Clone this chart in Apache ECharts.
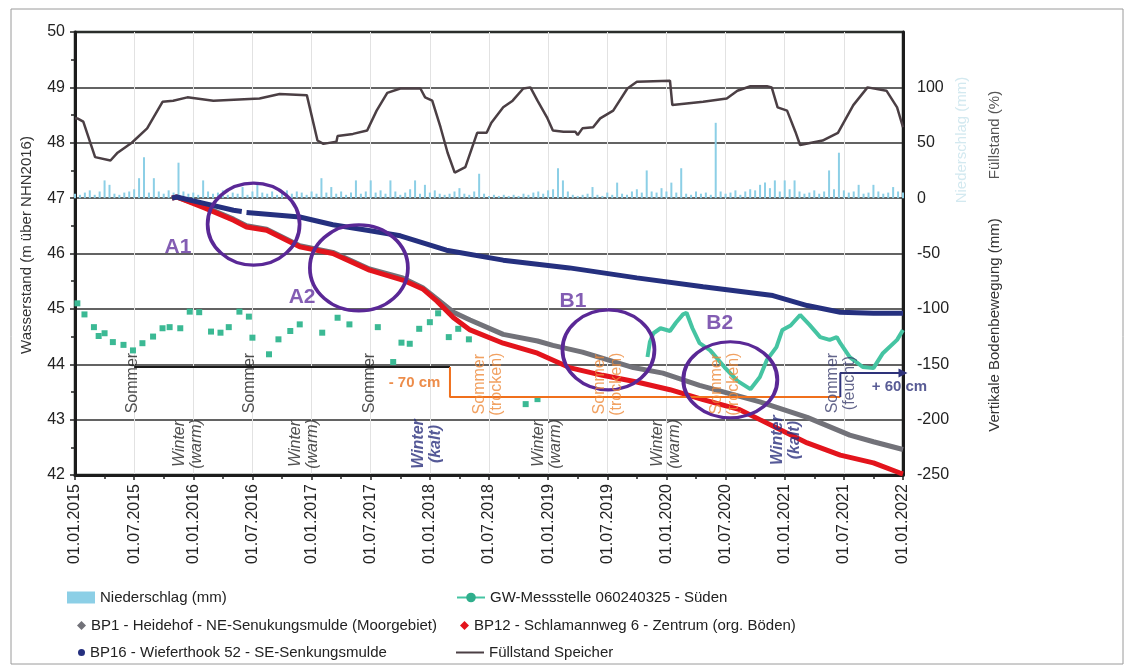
<!DOCTYPE html>
<html>
<head>
<meta charset="utf-8">
<script src="https://cdn.jsdelivr.net/npm/echarts@6/dist/echarts.min.js"></script>
<style>
  html, body { margin: 0; background: #fff; }
  #chart { width: 1125px; height: 670px; }
</style>
</head>
<body>
<div id="chart"></div>
<script>
// x values are decimal years (2015.0 = 01.01.2015)
const fuellstand = [
  [2015.00, 72], [2015.02, 72], [2015.07, 69], [2015.17, 37], [2015.30, 34], [2015.36, 41],
  [2015.48, 50], [2015.61, 63], [2015.74, 87], [2015.83, 88], [2015.95, 91], [2016.17, 88],
  [2016.56, 90], [2016.73, 94], [2016.96, 93], [2017.05, 52], [2017.10, 49], [2017.21, 51],
  [2017.22, 56], [2017.35, 58], [2017.47, 61], [2017.55, 79], [2017.64, 95], [2017.75, 99],
  [2017.92, 99], [2017.96, 91], [2018.02, 88], [2018.09, 64], [2018.15, 41], [2018.21, 23],
  [2018.30, 28], [2018.40, 59], [2018.48, 59], [2018.52, 68], [2018.62, 82], [2018.70, 88],
  [2018.79, 99], [2018.85, 100], [2018.91, 88], [2018.99, 73], [2019.04, 61], [2019.13, 60],
  [2019.23, 60], [2019.25, 57], [2019.29, 63], [2019.38, 64], [2019.44, 72], [2019.55, 79],
  [2019.67, 99], [2019.75, 105], [2020.03, 106], [2020.05, 84], [2020.31, 87], [2020.51, 90],
  [2020.60, 97], [2020.71, 101], [2020.85, 101], [2020.89, 100], [2020.94, 82], [2021.02, 79],
  [2021.09, 60], [2021.13, 48], [2021.32, 52], [2021.45, 59], [2021.58, 84], [2021.70, 100],
  [2021.86, 97], [2021.95, 82], [2022.00, 64]
];

// Niederschlag, half-month steps from 01.01.2015
const niederschlagStart = 2015;
const niederschlagStep = 1 / 24;
const niederschlag = [
  4, 3, 5, 7, 3, 6, 16, 12, 4, 3, 5, 6, 8, 18, 37, 5, 18, 6, 4, 7, 5, 32, 6, 4,
  5, 3, 16, 6, 4, 5, 7, 3, 5, 4, 10, 3, 6, 12, 5, 4, 6, 3, 5, 7, 4, 6, 5, 3,
  6, 4, 18, 5, 10, 4, 6, 3, 5, 16, 4, 6, 16, 5, 7, 4, 16, 6, 3, 5, 8, 16, 4, 12,
  5, 7, 4, 3, 4, 6, 9, 4, 3, 6, 22, 4, 2, 3, 2, 3, 2, 3, 2, 4, 3, 5, 6, 4,
  7, 8, 27, 16, 6, 3, 2, 3, 4, 10, 3, 2, 5, 3, 14, 4, 3, 6, 8, 5, 25, 6, 5, 9,
  6, 14, 5, 27, 4, 3, 6, 4, 5, 3, 68, 6, 4, 5, 7, 3, 6, 8, 7, 12, 14, 9, 16, 6,
  16, 8, 16, 6, 4, 5, 7, 4, 6, 25, 8, 41, 7, 5, 6, 12, 4, 5, 12, 6, 4, 5, 10, 6,
  5
];

// GW-Messstelle (m über NHN2016): single readings, then continuous logger
const gwEinzel = [
  [2015.02, 45.1], [2015.08, 44.9], [2015.16, 44.67], [2015.20, 44.51], [2015.25, 44.56],
  [2015.32, 44.4], [2015.41, 44.35], [2015.49, 44.25], [2015.57, 44.38], [2015.66, 44.5],
  [2015.74, 44.65], [2015.80, 44.67], [2015.89, 44.65], [2015.97, 44.95], [2016.05, 44.94],
  [2016.15, 44.59], [2016.23, 44.57], [2016.30, 44.67], [2016.39, 44.95], [2016.47, 44.86],
  [2016.50, 44.48], [2016.64, 44.18], [2016.72, 44.45], [2016.82, 44.6], [2016.90, 44.72],
  [2017.09, 44.57], [2017.22, 44.84], [2017.32, 44.72], [2017.56, 44.67], [2017.69, 44.04],
  [2017.76, 44.39], [2017.83, 44.37], [2017.91, 44.64], [2018.00, 44.76], [2018.07, 44.92],
  [2018.16, 44.49], [2018.24, 44.64], [2018.33, 44.45], [2018.81, 43.28], [2018.91, 43.37]
];
const gwLogger = [
  [2019.84, 44.13], [2019.86, 44.40], [2019.89, 44.56], [2019.95, 44.65], [2020.03, 44.6],
  [2020.08, 44.75], [2020.14, 44.9], [2020.17, 44.93], [2020.22, 44.65], [2020.28, 44.38],
  [2020.37, 44.25], [2020.49, 43.95], [2020.60, 43.7], [2020.71, 43.55], [2020.79, 43.77],
  [2020.85, 44.08], [2020.93, 44.31], [2020.98, 44.62], [2021.05, 44.7], [2021.13, 44.89],
  [2021.21, 44.71], [2021.30, 44.49], [2021.38, 44.44], [2021.44, 44.49], [2021.47, 44.38],
  [2021.55, 44.13], [2021.66, 43.95], [2021.75, 43.93], [2021.83, 44.2], [2021.95, 44.44],
  [2022.00, 44.62]
];

// Vertikale Bodenbewegung (mm)
const bp1 = [
  [2015.82, 0], [2015.86, 1], [2016.10, -8], [2016.34, -19], [2016.45, -25], [2016.62, -28],
  [2016.90, -43], [2017.18, -49], [2017.49, -64], [2017.77, -72], [2017.94, -81], [2018.06, -91],
  [2018.20, -103], [2018.34, -110], [2018.62, -123], [2018.91, -129], [2019.04, -133],
  [2019.29, -139], [2019.72, -153], [2019.97, -158], [2020.28, -169], [2020.79, -184],
  [2021.19, -198], [2021.55, -214], [2021.75, -220], [2022.00, -227]
];
const bp12 = [
  [2015.82, 0], [2015.86, 1], [2016.10, -9], [2016.34, -20], [2016.45, -26], [2016.62, -29],
  [2016.90, -44], [2017.18, -50], [2017.49, -65], [2017.77, -74], [2017.94, -82], [2018.06, -93],
  [2018.20, -108], [2018.34, -119], [2018.62, -131], [2018.91, -140], [2019.18, -153],
  [2019.46, -160], [2019.75, -166], [2020.03, -173], [2020.31, -182], [2020.62, -191],
  [2020.79, -200], [2021.19, -221], [2021.47, -232], [2021.75, -239], [2021.97, -248], [2022.00, -249]
];
const bp16 = [
  [2015.82, 0], [2015.86, 1], [2016.10, -5], [2016.34, -11], [2016.41, -12], null,
  [2016.45, -13], [2016.90, -17], [2017.18, -24], [2017.47, -29], [2017.75, -34], [2018.14, -47],
  [2018.62, -56], [2019.18, -63], [2019.75, -72], [2020.31, -80], [2020.68, -85], [2020.90, -88],
  [2021.19, -97], [2021.47, -103], [2021.75, -104], [2022.00, -104]
];

// Grundwasser-Niveau Markierungen (m)
const stufeSchwarz = [[2015.5, 43.95], [2018.17, 43.95]];
const stufeOrange = [[2018.17, 43.95], [2018.17, 43.41], [2021.47, 43.41]];
const stufeBlau = [[2021.47, 43.41], [2021.47, 43.84], [2022.0, 43.84]];

const xTickLabels = function (v) {
  const half = Math.round(v * 2);
  return (half % 2 === 0 ? '01.01.' : '01.07.') + Math.floor(half / 2);
};

const font = "'Liberation Sans', Arial, sans-serif";
const purple = '#5a2896';

// annotation marks
const kreise = [
  { value: [2016.51, 46.53], symbolSize: [92, 82] },
  { value: [2017.40, 45.74], symbolSize: [98, 86] },
  { value: [2019.51, 44.26], symbolSize: [92, 80] },
  { value: [2020.54, 43.72], symbolSize: [94, 76] }
];

function txt(x, y, text, color, opts) {
  return {
    value: [x, y],
    label: Object.assign({
      show: true, formatter: text, color: color, fontSize: 16, fontFamily: font,
      position: 'inside', align: 'center', verticalAlign: 'middle', lineHeight: 17
    }, opts || {})
  };
}
const rot = { rotate: 90 };
const winterStyle = { rotate: 90, fontStyle: 'italic' };
const kaltStyle = { rotate: 90, fontStyle: 'italic', fontWeight: 'bold' };
const texte = [
  txt(2015.87, 46.12, 'A1', '#6434a0', { fontSize: 21, fontWeight: 'bold' }),
  txt(2016.92, 45.21, 'A2', '#6434a0', { fontSize: 21, fontWeight: 'bold' }),
  txt(2019.21, 45.14, 'B1', '#6434a0', { fontSize: 21, fontWeight: 'bold' }),
  txt(2020.45, 44.74, 'B2', '#6434a0', { fontSize: 21, fontWeight: 'bold' }),
  txt(2015.49, 43.66, 'Sommer', '#222', rot),
  txt(2016.48, 43.66, 'Sommer', '#222', rot),
  txt(2017.49, 43.66, 'Sommer', '#222', rot),
  txt(2015.955, 42.56, 'Winter\n(warm)', '#222', winterStyle),
  txt(2016.94, 42.56, 'Winter\n(warm)', '#222', winterStyle),
  txt(2017.975, 42.56, 'Winter\n(kalt)', '#2b2f7d', kaltStyle),
  txt(2018.49, 43.64, 'Sommer\n(trocken)', '#ee8a3a', rot),
  txt(2018.99, 42.56, 'Winter\n(warm)', '#222', winterStyle),
  txt(2019.51, 43.64, 'Sommer\n(trocken)', '#ee8a3a', rot),
  txt(2020.00, 42.56, 'Winter\n(warm)', '#222', winterStyle),
  txt(2020.50, 43.64, 'Sommer\n(trocken)', '#ee8a3a', rot),
  txt(2021.01, 42.63, 'Winter\n(kalt)', '#2b2f7d', kaltStyle),
  txt(2021.48, 43.66, 'Sommer\n(feucht)', '#3c3f6e', rot),
  txt(2017.87, 43.66, '- 70 cm', '#e8701e', { fontSize: 15, fontWeight: 'bold' }),
  txt(2021.97, 43.59, '+ 60 cm', '#2e327a', { fontSize: 15, fontWeight: 'bold' })
];

const chart = echarts.init(document.getElementById('chart'), null, { renderer: 'canvas' });

function legende(left, top, name, icon, w, h) {
  return {
    left: left, top: top, itemWidth: w, itemHeight: h, selectedMode: false,
    textStyle: { fontSize: 15, color: '#222', fontFamily: font },
    data: [icon ? { name: name, icon: icon } : name]
  };
}

const option = {
  backgroundColor: '#fff',
  animation: false,
  textStyle: { fontFamily: font },
  grid: {
    left: 75, right: 222, top: 32, bottom: 195,
    show: true, borderColor: '#1c2b22', borderWidth: 2.5, backgroundColor: 'transparent'
  },
  legend: [
    legende(62, 585, 'Niederschlag (mm)', 'rect', 28, 12),
    legende(451, 585, 'GW-Messstelle 060240325 - Süden', null, 28, 12),
    legende(72, 613, 'BP1 - Heidehof - NE-Senukungsmulde (Moorgebiet)', 'diamond', 9, 9),
    legende(455, 613, 'BP12 - Schlamannweg 6 - Zentrum (org. Böden)', 'diamond', 9, 9),
    legende(73, 640, 'BP16 - Wieferthook 52 - SE-Senkungsmulde', 'circle', 7, 7),
    legende(451, 640, 'Füllstand Speicher', 'rect', 28, 2)
  ],
  xAxis: {
    type: 'value', min: 2015, max: 2022, interval: 0.5,
    axisLine: { show: true, onZero: false, lineStyle: { color: '#1c1c1c', width: 3 } },
    axisTick: { show: true, length: 5, lineStyle: { color: '#222', width: 1.5 } },
    minorTick: { show: true, splitNumber: 2, length: 4, lineStyle: { color: '#222', width: 1.5 } },
    splitLine: { show: true, lineStyle: { color: '#e2e2e2', width: 1 } },
    axisLabel: { rotate: 90, formatter: xTickLabels, fontSize: 16, color: '#222', margin: 9 }
  },
  yAxis: [
    {
      type: 'value', min: 42, max: 50, interval: 1, position: 'left',
      axisLine: { show: true, lineStyle: { color: '#1c1c1c', width: 3 } },
      axisTick: { show: true, length: 5, lineStyle: { color: '#222', width: 1.5 } },
      minorTick: { show: true, splitNumber: 2, length: 4, lineStyle: { color: '#222', width: 1.5 } },
      splitLine: { show: true, lineStyle: { color: '#2f2f2f', width: 1.5 } },
      axisLabel: { fontSize: 16, color: '#222', margin: 10 }
    },
    {
      type: 'value', min: -250, max: 150, interval: 50, position: 'right',
      axisLine: { show: true, lineStyle: { color: '#1c1c1c', width: 3 } },
      axisTick: { show: false },
      splitLine: { show: false },
      axisLabel: {
        fontSize: 16, color: '#222', margin: 14,
        formatter: function (v) { return v === 150 ? '' : String(v); }
      }
    }
  ],
  graphic: [
    { type: 'rect', shape: { x: 11, y: 9, width: 1112, height: 655 }, style: { fill: 'none', stroke: '#9a9a9a', lineWidth: 1 }, silent: true },
    { type: 'text', x: 27, y: 245, rotation: Math.PI / 2, style: { text: 'Wasserstand (m über NHN2016)', fontSize: 15, fill: '#333', align: 'center', verticalAlign: 'middle', fontFamily: font } },
    { type: 'text', x: 995, y: 325, rotation: Math.PI / 2, style: { text: 'Vertikale Bodenbewegung (mm)', fontSize: 15, fill: '#333', align: 'center', verticalAlign: 'middle', fontFamily: font } },
    { type: 'text', x: 995, y: 135, rotation: Math.PI / 2, style: { text: 'Füllstand (%)', fontSize: 15, fill: '#555', align: 'center', verticalAlign: 'middle', fontFamily: font } },
    { type: 'text', x: 962, y: 140, rotation: Math.PI / 2, style: { text: 'Niederschlag (mm)', fontSize: 15, fill: '#d3e9f0', align: 'center', verticalAlign: 'middle', fontFamily: font } }
  ],
  series: [
    {
      name: 'Niederschlag (mm)', type: 'bar', yAxisIndex: 1, barWidth: 2, z: 2,
      itemStyle: { color: '#8ccfe6' },
      data: niederschlag.map(function (v, i) { return [niederschlagStart + i * niederschlagStep, v]; })
    },
    {
      name: 'Füllstand Speicher', type: 'line', yAxisIndex: 1, symbol: 'none', z: 3,
      lineStyle: { color: '#4b3f44', width: 2.5 }, itemStyle: { color: '#4b3f44' },
      data: fuellstand
    },
    {
      name: 'GW-Messstelle 060240325 - Süden', type: 'line', yAxisIndex: 0, z: 4,
      symbol: 'circle', symbolSize: 5, showSymbol: false,
      lineStyle: { color: '#45c4a2', width: 4 }, itemStyle: { color: '#2fae8c' },
      data: gwLogger
    },
    {
      name: 'GW Einzelmessung', type: 'scatter', yAxisIndex: 0, z: 4,
      symbol: 'rect', symbolSize: 6, itemStyle: { color: '#3bb994', opacity: 1 },
      data: gwEinzel
    },
    {
      name: 'BP1 - Heidehof - NE-Senukungsmulde (Moorgebiet)', type: 'line', yAxisIndex: 1, z: 5,
      symbol: 'none', lineStyle: { color: '#727279', width: 5 }, itemStyle: { color: '#727279' },
      data: bp1
    },
    {
      name: 'BP12 - Schlamannweg 6 - Zentrum (org. Böden)', type: 'line', yAxisIndex: 1, z: 6,
      symbol: 'none', lineStyle: { color: '#e3141c', width: 5 }, itemStyle: { color: '#e3141c' },
      data: bp12
    },
    {
      name: 'BP16 - Wieferthook 52 - SE-Senkungsmulde', type: 'line', yAxisIndex: 1, z: 7,
      symbol: 'none', connectNulls: false,
      lineStyle: { color: '#25307f', width: 5 }, itemStyle: { color: '#25307f' },
      data: bp16
    },
    {
      name: 'stufe1', type: 'line', yAxisIndex: 0, z: 8, symbol: 'none', silent: true,
      lineStyle: { color: '#1a1a1a', width: 2 }, data: stufeSchwarz
    },
    {
      name: 'stufe2', type: 'line', yAxisIndex: 0, z: 8, symbol: 'none', silent: true,
      lineStyle: { color: '#f0701c', width: 2 }, data: stufeOrange
    },
    {
      name: 'stufe3', type: 'line', yAxisIndex: 0, z: 8, symbol: 'none', showSymbol: true, silent: true,
      lineStyle: { color: '#2e327a', width: 2 }, itemStyle: { color: '#2e327a' },
      data: stufeBlau.map(function (p, i) {
        return i === stufeBlau.length - 1
          ? { value: p, symbol: 'triangle', symbolRotate: -90, symbolSize: 9 }
          : p;
      })
    },
    {
      name: 'kreise', type: 'scatter', yAxisIndex: 0, z: 9, silent: true,
      itemStyle: { color: 'rgba(0,0,0,0)', borderColor: purple, borderWidth: 3.5, opacity: 1 },
      data: kreise
    },
    {
      name: 'texte', type: 'scatter', yAxisIndex: 0, z: 10, silent: true,
      symbolSize: 1, itemStyle: { color: 'rgba(0,0,0,0)' },
      data: texte
    }
  ]
};

chart.setOption(option);
window.addEventListener('resize', chart.resize);
</script>
</body>
</html>
